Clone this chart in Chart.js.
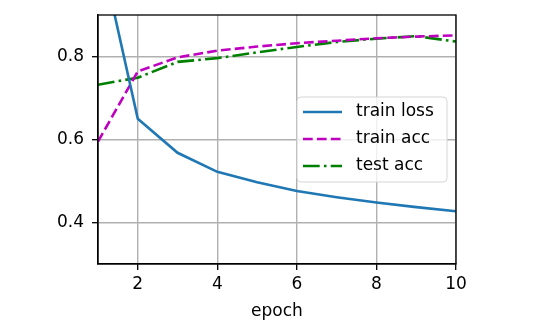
<!DOCTYPE html>
<html lang="en">
<head>
    <meta charset="UTF-8">
    <title>Training curves</title>
    <script src="https://cdn.jsdelivr.net/npm/chart.js"></script>
    <style>
        body { margin: 0; background: #fff; }
        canvas { display: block; }
    </style>
</head>
<body>
    <canvas id="train-chart" width="541" height="324"></canvas>

    <script>
        // Metrics per epoch
        const epochs = [1, 2, 3, 4, 5, 6, 7, 8, 9, 10];
        const trainLoss = [1.08, 0.650, 0.568, 0.522, 0.497, 0.476, 0.461, 0.448, 0.437, 0.427];
        const trainAcc = [0.595, 0.764, 0.798, 0.814, 0.824, 0.832, 0.838, 0.844, 0.848, 0.851];
        const testAcc = [0.732, 0.749, 0.787, 0.796, 0.810, 0.823, 0.835, 0.843, 0.849, 0.836];

        const xTicks = [2, 4, 6, 8, 10];
        const yTicks = [0.4, 0.6, 0.8];

        const font = 'DejaVu Sans';
        const toPoints = (ys) => ys.map((y, i) => ({ x: epochs[i], y: y }));

        // Frame on the top and right edges of the plot
        const frame = {
            id: 'frame',
            afterDraw(chart) {
                const { ctx, chartArea: a } = chart;
                ctx.save();
                ctx.strokeStyle = '#000';
                ctx.lineWidth = 1.3;
                ctx.strokeRect(a.left, a.top, a.right - a.left, a.bottom - a.top);
                ctx.restore();
            }
        };

        // Legend box drawn inside the plot area
        const legendBox = {
            id: 'legendBox',
            afterDatasetsDraw(chart) {
                const { ctx, chartArea: a } = chart;
                const left = a.right - 159, top = a.top + 82, w = 150, h = 85;
                ctx.save();
                ctx.beginPath();
                ctx.roundRect(left, top, w, h, 4);
                ctx.fillStyle = 'rgba(255,255,255,0.8)';
                ctx.fill();
                ctx.strokeStyle = '#d5d5d5';
                ctx.lineWidth = 1;
                ctx.stroke();

                ctx.font = '17px "' + font + '"';
                ctx.textBaseline = 'middle';
                ctx.fillStyle = '#000';
                chart.data.datasets.forEach((ds, i) => {
                    const y = top + 15 + i * 27;
                    ctx.strokeStyle = ds.borderColor;
                    ctx.lineWidth = ds.borderWidth;
                    ctx.setLineDash(ds.borderDash || []);
                    ctx.beginPath();
                    ctx.moveTo(left + 6, y);
                    ctx.lineTo(left + 45, y);
                    ctx.stroke();
                    ctx.fillText(ds.label, left + 59, y);
                });
                ctx.restore();
            }
        };

        new Chart(document.getElementById('train-chart'), {
            type: 'line',
            data: {
                datasets: [{
                    label: 'train loss',
                    data: toPoints(trainLoss),
                    borderColor: '#1f77b4',
                    borderWidth: 2.6
                }, {
                    label: 'train acc',
                    data: toPoints(trainAcc),
                    borderColor: '#bf00bf',
                    borderWidth: 2.6,
                    borderDash: [9.7, 4.2]
                }, {
                    label: 'test acc',
                    data: toPoints(testAcc),
                    borderColor: '#008000',
                    borderWidth: 2.6,
                    borderDash: [16.7, 4.2, 2.6, 4.2]
                }]
            },
            options: {
                responsive: false,
                animation: false,
                devicePixelRatio: 1,
                layout: { padding: { top: 15, right: 85, bottom: 0, left: 0 } },
                elements: {
                    point: { radius: 0 },
                    line: { tension: 0, fill: false, borderCapStyle: 'butt' }
                },
                plugins: {
                    legend: { display: false },
                    tooltip: { enabled: false }
                },
                scales: {
                    x: {
                        type: 'linear',
                        min: 1,
                        max: 10,
                        afterBuildTicks: (s) => { s.ticks = xTicks.map(v => ({ value: v })); },
                        afterFit: (s) => { s.height = 60; },
                        grid: { color: '#b0b0b0', lineWidth: 1.4, tickColor: '#000', tickLength: 6, tickWidth: 1.3 },
                        border: { color: '#000', width: 1.3 },
                        ticks: { color: '#000', font: { family: font, size: 17 }, padding: 4, maxRotation: 0 },
                        title: { display: true, text: 'epoch', color: '#000', font: { family: font, size: 17 }, padding: { top: 0, bottom: 2 } }
                    },
                    y: {
                        min: 0.3,
                        max: 0.9,
                        afterBuildTicks: (s) => { s.ticks = yTicks.map(v => ({ value: v })); },
                        afterFit: (s) => { s.width = 98; s.paddingTop = 0; s.paddingBottom = 0; },
                        grid: { color: '#b0b0b0', lineWidth: 1.4, tickColor: '#000', tickLength: 6, tickWidth: 1.3 },
                        border: { color: '#000', width: 1.3 },
                        ticks: { color: '#000', font: { family: font, size: 17 }, padding: 8 }
                    }
                }
            },
            plugins: [legendBox, frame]
        });
    </script>
</body>
</html>
